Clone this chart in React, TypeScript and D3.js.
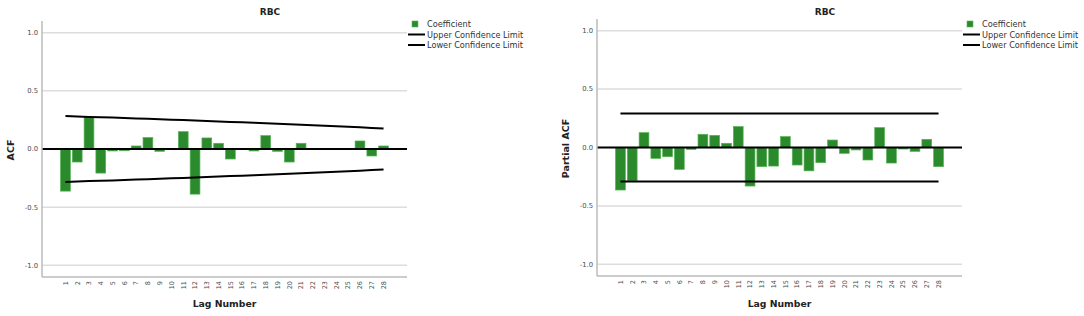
import React from "react";
import * as d3 from "d3";

const lags = [1, 2, 3, 4, 5, 6, 7, 8, 9, 10, 11, 12, 13, 14, 15, 16, 17, 18, 19, 20, 21, 22, 23, 24, 25, 26, 27, 28];

const acfValues = [-0.362, -0.112, 0.273, -0.207, -0.017, -0.015, 0.026, 0.098, -0.02, 0.005, 0.149, -0.388, 0.095, 0.049, -0.086, 0.003, -0.017, 0.115, -0.02, -0.112, 0.049, -0.005, 0.002, 0.002, 0.002, 0.069, -0.06, 0.026];
const acfUpper = [0.283, 0.280, 0.276, 0.273, 0.270, 0.266, 0.263, 0.259, 0.256, 0.252, 0.249, 0.245, 0.241, 0.237, 0.233, 0.230, 0.226, 0.222, 0.217, 0.213, 0.209, 0.204, 0.200, 0.195, 0.191, 0.186, 0.181, 0.176];
const acfLower = [-0.283, -0.280, -0.276, -0.273, -0.270, -0.266, -0.263, -0.259, -0.256, -0.252, -0.249, -0.245, -0.241, -0.237, -0.233, -0.230, -0.226, -0.222, -0.217, -0.213, -0.209, -0.204, -0.200, -0.195, -0.191, -0.186, -0.181, -0.176];

const pacfValues = [-0.364, -0.285, 0.127, -0.093, -0.079, -0.187, -0.016, 0.113, 0.104, 0.036, 0.179, -0.33, -0.164, -0.159, 0.093, -0.15, -0.2, -0.13, 0.064, -0.05, -0.021, -0.107, 0.17, -0.133, -0.013, -0.033, 0.07, -0.164];
const pacfUpper = [0.292, 0.292, 0.292, 0.292, 0.292, 0.292, 0.292, 0.292, 0.292, 0.292, 0.292, 0.292, 0.292, 0.292, 0.292, 0.292, 0.292, 0.292, 0.292, 0.292, 0.292, 0.292, 0.292, 0.292, 0.292, 0.292, 0.292, 0.292];
const pacfLower = [-0.292, -0.292, -0.292, -0.292, -0.292, -0.292, -0.292, -0.292, -0.292, -0.292, -0.292, -0.292, -0.292, -0.292, -0.292, -0.292, -0.292, -0.292, -0.292, -0.292, -0.292, -0.292, -0.292, -0.292, -0.292, -0.292, -0.292, -0.292];

const yTicks = [1.0, 0.5, 0.0, -0.5, -1.0];
const legendLabels = ["Coefficient", "Upper Confidence Limit", "Lower Confidence Limit"];
const titleText = "RBC";
const xTitle = "Lag Number";

const FONT = "'DejaVu Sans', Verdana, sans-serif";
const BAR_FILL = "#2b8a2b";
const BAR_STROKE = "#56b256";

type ChartProps = {
  ox: number;
  top: number;
  bottom: number;
  values: number[];
  upper: number[];
  lower: number[];
  yLabel: string;
};

function Chart({ ox, top, bottom, values, upper, lower, yLabel }: ChartProps) {
  const left = ox + 42;
  const right = ox + 407;
  const y = d3.scaleLinear().domain([-1.1, 1.1]).range([bottom, top]);
  const x = d3
    .scaleBand<number>()
    .domain(lags)
    .range([left, right])
    .paddingInner(0.17)
    .paddingOuter(1.575);
  const bw = x.bandwidth();
  const cx = (l: number) => (x(l) as number) + bw / 2;
  const line = d3
    .line<number>()
    .x((_, i) => cx(lags[i]))
    .y((d) => y(d));

  return (
    <g>
      {yTicks.map((t) => (
        <line key={"g" + t} x1={left} x2={right} y1={y(t)} y2={y(t)} stroke="#dddddd" strokeWidth={1.5} />
      ))}
      {yTicks.map((t) => (
        <text
          key={"t" + t}
          x={left - 4}
          y={y(t)}
          dy="0.35em"
          textAnchor="end"
          fontSize={6.8}
          fill="#4a4a4a"
          fontFamily={FONT}
        >
          {t.toFixed(1)}
        </text>
      ))}
      {values.map((v, i) => (
        <rect
          key={"b" + i}
          x={x(lags[i])}
          width={bw}
          y={y(Math.max(0, v))}
          height={Math.abs(y(v) - y(0))}
          fill={BAR_FILL}
          stroke={BAR_STROKE}
          strokeWidth={0.7}
        />
      ))}
      <line x1={left} x2={right} y1={y(0)} y2={y(0)} stroke="#000" strokeWidth={2} />
      <path d={line(upper) || ""} fill="none" stroke="#000" strokeWidth={2} />
      <path d={line(lower) || ""} fill="none" stroke="#000" strokeWidth={2} />
      <line x1={left} x2={left} y1={top} y2={bottom} stroke="#bbbbbb" strokeWidth={1.5} />
      <line x1={left} x2={right} y1={bottom} y2={bottom} stroke="#bbbbbb" strokeWidth={1.5} />
      {lags.map((l) => (
        <text
          key={"x" + l}
          transform={`translate(${cx(l)},${bottom + 4}) rotate(-90)`}
          textAnchor="end"
          dy="0.35em"
          fontSize={6.5}
          fill="#4a4a4a"
          fontFamily={FONT}
        >
          {l}
        </text>
      ))}
      <text
        x={(left + right) / 2}
        y={307}
        textAnchor="middle"
        fontSize={9.3}
        fontWeight="bold"
        fill="#222"
        fontFamily={FONT}
      >
        {xTitle}
      </text>
      <text
        transform={`translate(${ox + 13.5},${(top + bottom) / 2 + 1}) rotate(-90)`}
        textAnchor="middle"
        fontSize={9.5}
        fontWeight="bold"
        fill="#222"
        fontFamily={FONT}
      >
        {yLabel}
      </text>
      <text
        x={ox + 270}
        y={15}
        textAnchor="middle"
        fontSize={9}
        fontWeight="bold"
        fill="#222"
        fontFamily={FONT}
      >
        {titleText}
      </text>
      <rect x={ox + 412} y={21} width={6} height={6} fill={BAR_FILL} stroke={BAR_STROKE} strokeWidth={0.6} />
      <line x1={ox + 408} x2={ox + 425} y1={34.5} y2={34.5} stroke="#000" strokeWidth={2} />
      <line x1={ox + 408} x2={ox + 425} y1={45} y2={45} stroke="#000" strokeWidth={2} />
      {legendLabels.map((lab, i) => (
        <text
          key={lab}
          x={ox + 427}
          y={[27, 37.5, 48][i]}
          fontSize={8.2}
          fill="#333"
          fontFamily={FONT}
        >
          {lab}
        </text>
      ))}
    </g>
  );
}

export default function App() {
  return (
    <div style={{ position: "absolute", left: 0, top: 0 }}>
      <svg width={1084} height={316} style={{ display: "block", background: "#fff" }}>
        <rect width={1084} height={316} fill="#fff" />
        <Chart ox={0} top={21} bottom={277} values={acfValues} upper={acfUpper} lower={acfLower} yLabel="ACF" />
        <Chart ox={555} top={19} bottom={276} values={pacfValues} upper={pacfUpper} lower={pacfLower} yLabel="Partial ACF" />
      </svg>
    </div>
  );
}
